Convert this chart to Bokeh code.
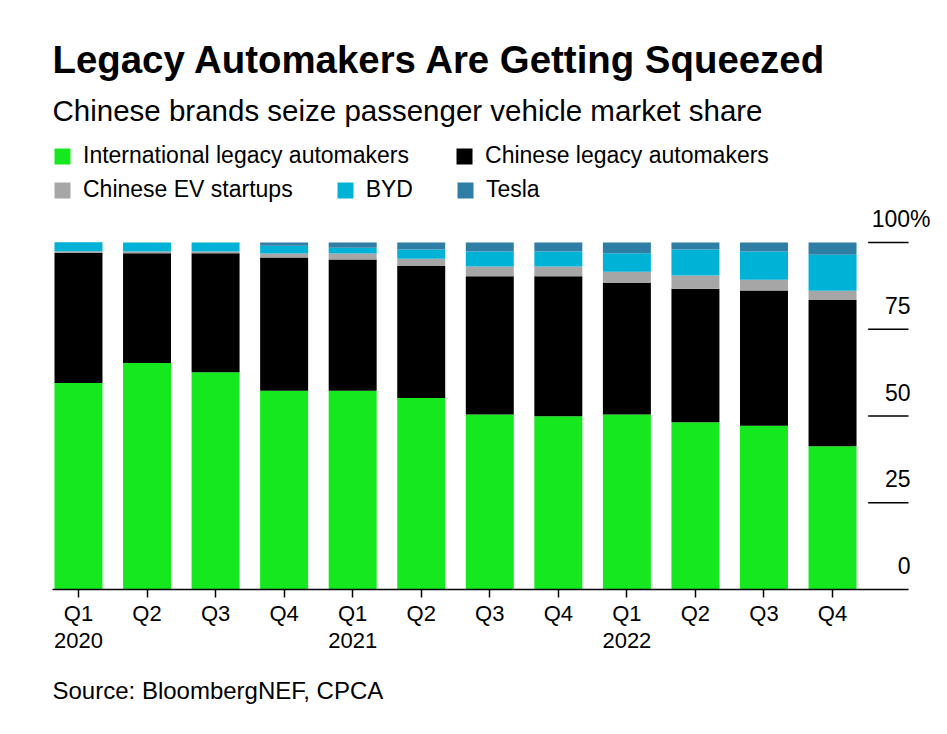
from bokeh.plotting import figure
from bokeh.models import (Range1d, FixedTicker, Legend, LegendItem, Title,
                          ColumnDataSource)
from bokeh.core.properties import value
from bokeh.embed import file_html
from bokeh.resources import INLINE

# ---- data (share of passenger vehicle sales, %) ----
quarters = ["Q1\n2020", "Q2", "Q3", "Q4", "Q1\n2021", "Q2", "Q3", "Q4",
            "Q1\n2022", "Q2", "Q3", "Q4"]
intl_legacy = [59.5, 65.3, 62.6, 57.3, 57.3, 55.2, 50.4, 49.9, 50.4, 48.2, 47.2, 41.3]
chinese_legacy = [37.5, 31.6, 34.3, 38.4, 37.8, 38.0, 39.9, 40.4, 37.9, 38.5, 39.0, 42.1]
ev_startups = [0.5, 0.5, 0.5, 1.1, 1.7, 2.1, 2.8, 2.8, 3.3, 3.8, 3.1, 2.7]
byd = [2.6, 2.6, 2.6, 2.3, 1.7, 2.7, 4.3, 4.3, 5.3, 7.5, 8.1, 10.4]
tesla = [0.0, 0.0, 0.0, 0.9, 1.5, 2.0, 2.6, 2.6, 3.1, 2.0, 2.6, 3.5]
series_names = ["International legacy automakers", "Chinese legacy automakers",
                "Chinese EV startups", "BYD", "Tesla"]
y_ticks = [0, 25, 50, 75, 100]
y_tick_labels = ["0", "25", "50", "75", "100%"]

colors = ["#15E81E", "#000000", "#A6A6A6", "#00B2D6", "#2F7EA6"]
FONT = "Liberation Sans"

x = list(range(len(quarters)))
src = ColumnDataSource(dict(x=x, s0=intl_legacy, s1=chinese_legacy,
                            s2=ev_startups, s3=byd, s4=tesla))

x_min, x_max = -0.379, 12.502
axis_end = 12.108
tick_start = 11.52

p = figure(width=945, height=732, output_backend="svg", toolbar_location=None,
           x_range=Range1d(x_min, x_max), y_range=Range1d(0, 129.4),
           y_axis_location=None, title=None,
           min_border_left=52, min_border_right=10, min_border_top=140,
           min_border_bottom=143)
p.outline_line_color = None
p.xgrid.visible = False
p.ygrid.visible = False
p.background_fill_color = "white"
p.border_fill_color = "white"

rs = p.vbar_stack(["s0", "s1", "s2", "s3", "s4"], x="x", width=0.70,
                  color=colors, line_color=None, source=src)

# x axis
ax = p.xaxis[0]
ax.ticker = FixedTicker(ticks=x)
ax.major_label_overrides = {i: q for i, q in enumerate(quarters)}
ax.bounds = (x_min, axis_end)
ax.axis_line_color = "black"
ax.axis_line_width = 1.5
ax.major_tick_line_color = "black"
ax.major_tick_line_width = 1.5
ax.major_tick_out = 8
ax.major_tick_in = 0
ax.minor_tick_line_color = None
ax.major_label_text_font = FONT
ax.major_label_text_font_size = "22px"
ax.major_label_text_color = "black"
ax.major_label_text_line_height = 1.1
ax.major_label_standoff = 3

# right-hand value ticks: short lines with labels above them
tick_lines = [t for t in y_ticks if t > 0]
p.segment(x0=[tick_start] * len(tick_lines), x1=[axis_end] * len(tick_lines),
          y0=tick_lines, y1=tick_lines, line_color="black", line_width=1.5)
p.text(x=[axis_end] * 4, y=y_ticks[:4], text=y_tick_labels[:4],
       text_font=value(FONT), text_font_size="23px", text_align="right",
       text_baseline="alphabetic", y_offset=-24, x_offset=2, text_color="black")
p.text(x=[axis_end], y=[y_ticks[4]], text=[y_tick_labels[4]],
       text_font=value(FONT), text_font_size="23px", text_align="right",
       text_baseline="alphabetic", y_offset=-24, x_offset=22, text_color="black")

# legends (two rows)
def make_legend(idxs, loc, spacing):
    items = [LegendItem(label=series_names[i], renderers=[rs[i]]) for i in idxs]
    lg = Legend(items=items, orientation="horizontal", location=loc,
                label_text_font=FONT, label_text_font_size="23px",
                label_text_color="black", glyph_width=20, glyph_height=20,
                label_standoff=11, spacing=spacing, padding=0, margin=0,
                border_line_color=None, background_fill_alpha=0)
    return lg

p.add_layout(make_legend([0, 1], (0, 420), 45), "center")
p.add_layout(make_legend([2, 3, 4], (0, 386), 42), "center")

# titles
p.add_layout(Title(text="Chinese brands seize passenger vehicle market share",
                   text_font=FONT, text_font_size="29.5px",
                   text_font_style="normal", text_color="black",
                   align="left", standoff=27), "above")
p.add_layout(Title(text="Legacy Automakers Are Getting Squeezed",
                   text_font=FONT, text_font_size="38.4px",
                   text_font_style="bold", text_color="black",
                   align="left", standoff=-4), "above")
p.add_layout(Title(text="Source: BloombergNEF, CPCA", text_font=FONT,
                   text_font_size="24px", text_font_style="normal",
                   text_color="black", align="left", standoff=37), "below")

open("out.html", "w").write(file_html(p, INLINE))
